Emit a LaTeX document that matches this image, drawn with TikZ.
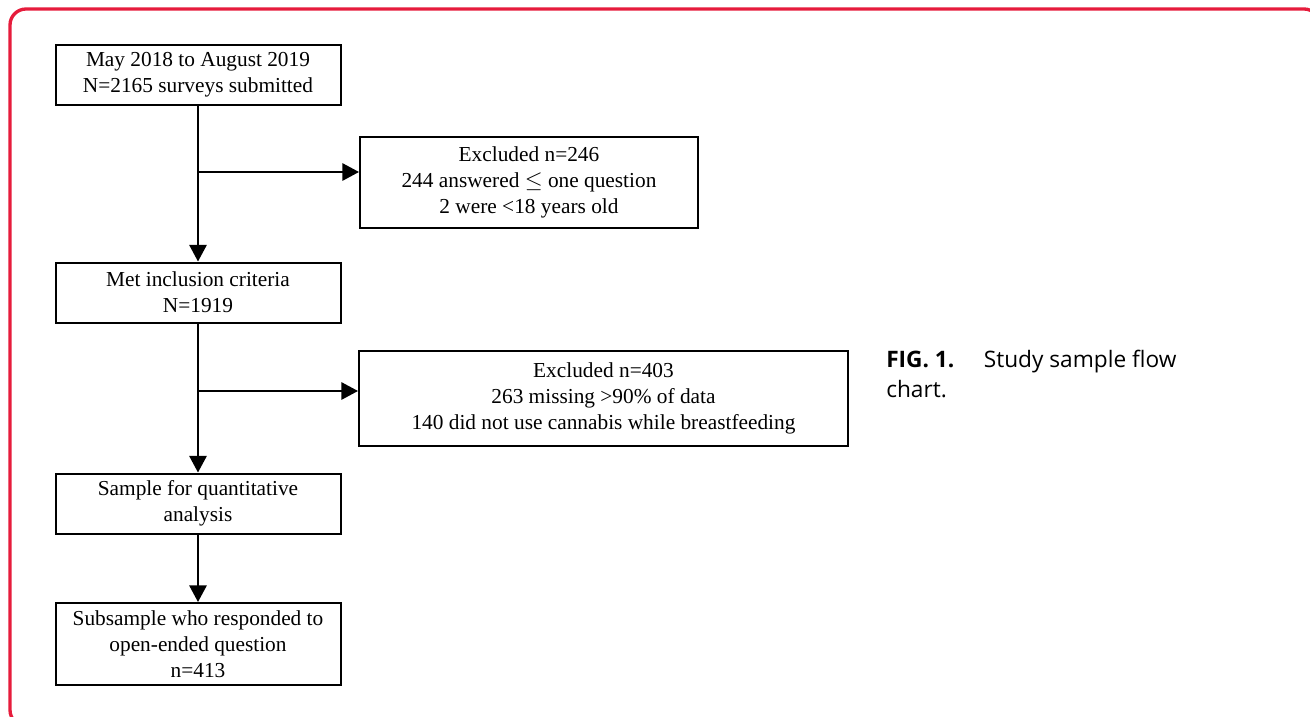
\documentclass[tikz,border=0pt]{standalone}
\usepackage{fontspec}
\setmainfont{Liberation Serif}
\newfontfamily\capfont{Open Sans}
\usetikzlibrary{arrows.meta}
\definecolor{borderred}{RGB}{230,28,60}
\begin{document}
\begin{tikzpicture}[x=0.75pt,y=-0.75pt]

    \tikzset{
      flowbox/.style={
        draw,
        line width=1.5pt,
        align=center,
        inner sep=0pt,
        minimum width=213.75pt,
        minimum height=45pt,
        font=\fontsize{16}{19.5}\selectfont,
      },
      flowarrow/.style={
        line width=1.5pt,
        -{Triangle[length=12.5pt,width=13pt]},
      },
    }
    \useasboundingbox (0,0) rectangle (1310,717);
    \clip (0,0) rectangle (1310,717);
    \draw[color={borderred},line width=2.5pt,rounded corners=12pt] (10,9) rectangle (1320,726);

	\node[flowbox] (surveys) at (198,75) {May 2018 to August 2019\\N=2165 surveys submitted};
	\node[flowbox,minimum width=253.5pt,minimum height=68.25pt] (excl1) at (529,182.5) {Excluded n=246\\244 answered $\leq$ one question\\2 were <18 years old};
	\node[flowbox] (met) at (198,292.5) {Met inclusion criteria\\N=1919};
	\node[flowbox,minimum width=366.75pt,minimum height=71.25pt] (excl2) at (603.5,398.5) {Excluded n=403\\263 missing >90\% of data\\140 did not use cannabis while breastfeeding};
	\node[flowbox] (sample) at (198,503.5) {Sample for quantitative\\analysis};
	\node[flowbox,minimum height=61.5pt] (subsample) at (198,644) {Subsample who responded to\\open-ended question\\n=413};

	\coordinate (split1) at (198,172);
	\coordinate (split2) at (198,391);
	\draw[flowarrow] (surveys.south) -- (met.north);
	\draw[flowarrow] (split1) -- (split1 -| excl1.west);
	\draw[flowarrow] (met.south) -- (sample.north);
	\draw[flowarrow] (split2) -- (split2 -| excl2.west);
	\draw[flowarrow] (sample.south) -- (subsample.north);

	\node[anchor=north west,align=left,inner sep=0pt,font=\capfont\fontsize{17}{22.5}\selectfont] (caption) at (886,350) {\textbf{FIG. 1.}\hspace{1.3em}Study sample flow\\chart.};

\end{tikzpicture}
\end{document}
